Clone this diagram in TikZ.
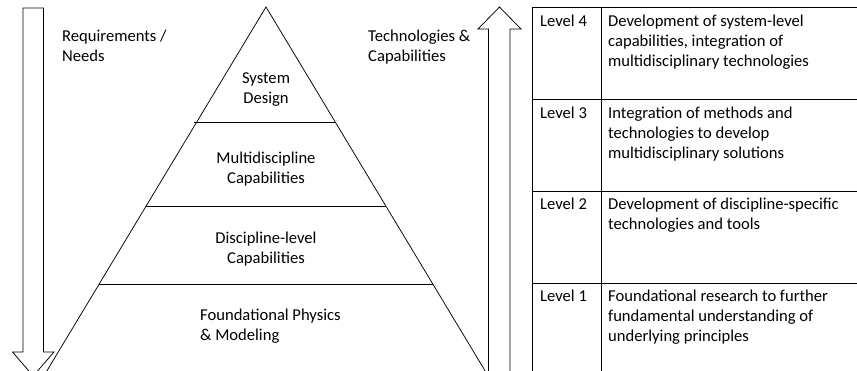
\documentclass[tikz,border=0pt]{standalone}
\usepackage{fontspec}
\setmainfont{Carlito}
\begin{document}
\begin{tikzpicture}[x=1pt,y=-1pt,
  line/.style={draw=black,line width=0.75pt},
  lbl/.style={font=\fontsize{16.6}{20}\selectfont,inner sep=0pt,align=left},
  clbl/.style={font=\fontsize{16.6}{20}\selectfont,inner sep=0pt,align=center}]
\useasboundingbox (0,0) rectangle (857,371);
\begin{scope}
\clip (0,0) rectangle (857,371);
% down arrow
\draw[line] (23,8) -- (43.5,8) -- (43.5,352) -- (54,352) -- (33.2,376) -- (12.5,352) -- (23,352) -- cycle;
% up arrow
\draw[line] (488.5,400) -- (488.5,29) -- (478,29) -- (499.5,7) -- (521,29) -- (510,29) -- (510,400);
% pyramid
\coordinate (apex) at (266,7);
\coordinate (bl) at (45,374);
\coordinate (br) at (487,374);
\draw[line] (bl) -- (apex) -- (br);
\draw[line] (194,122) -- (336,122);
\draw[line] (146,206) -- (386,206);
\draw[line] (99,284) -- (433,284);
% table
\draw[line] (532,400) -- (532,7.5) -- (860,7.5);
\draw[line] (601,7.5) -- (601,400);
\draw[line] (532,99) -- (860,99);
\draw[line] (532,191) -- (860,191);
\draw[line] (532,283) -- (860,283);
\end{scope}
% side labels
\node[lbl,anchor=north west] (req) at (62,30) {Requirements /\\Needs};
\node[lbl,anchor=north west] (tech) at (368,30) {Technologies \&\\Capabilities};
% pyramid labels
\node[clbl] (sys) at (266,90) {System\\Design};
\node[clbl] (multi) at (266,169) {Multidiscipline\\Capabilities};
\node[clbl] (disc) at (266,249) {Discipline-level\\Capabilities};
\node[lbl,anchor=north west] (found) at (200,309) {Foundational Physics\\\& Modeling};
% table labels
\node[lbl,anchor=north west] (l4) at (540,15) {Level 4};
\node[lbl,anchor=north west] (d4) at (608,15) {Development of system-level\\capabilities, integration of\\multidisciplinary technologies};
\node[lbl,anchor=north west] (l3) at (540,107) {Level 3};
\node[lbl,anchor=north west] (d3) at (608,107) {Integration of methods and\\technologies to develop\\multidisciplinary solutions};
\node[lbl,anchor=north west] (l2) at (540,198) {Level 2};
\node[lbl,anchor=north west] (d2) at (608,198) {Development of discipline-specific\\technologies and tools};
\node[lbl,anchor=north west] (l1) at (540,290) {Level 1};
\node[lbl,anchor=north west] (d1) at (608,290) {Foundational research to further\\fundamental understanding of\\underlying principles};
\end{tikzpicture}
\end{document}
